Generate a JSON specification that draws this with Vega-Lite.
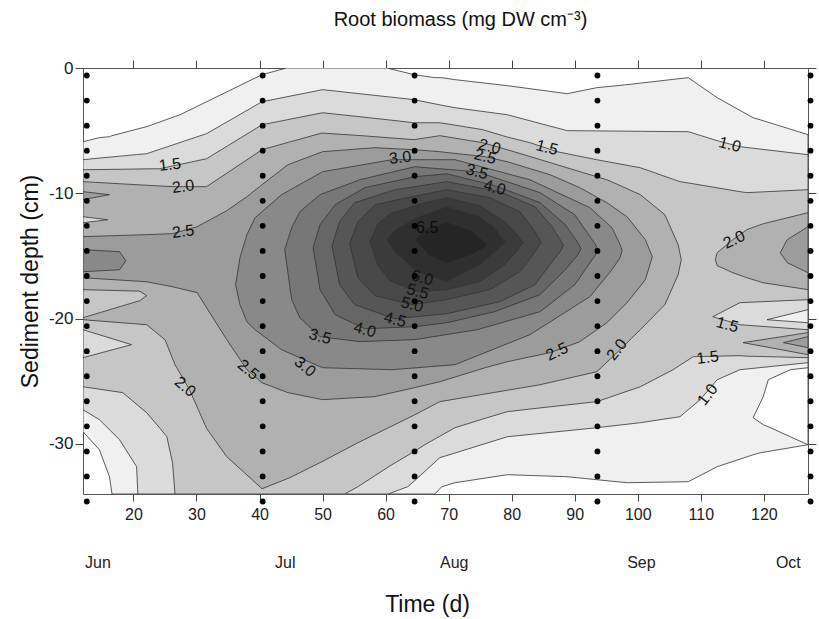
{
  "$schema": "https://vega.github.io/schema/vega-lite/v6.json",
  "width": 725,
  "height": 426,
  "autosize": {"type": "none"},
  "padding": {"left": 83, "top": 68, "right": 11, "bottom": 125},
  "background": "white",
  "title": {"text": "Root biomass (mg DW cm⁻³)", "font": "Liberation Sans", "fontSize": 20, "fontWeight": "normal", "color": "#111", "dx": 15, "offset": 9, "baseline": "bottom"},
  "config": {"view": {"stroke": "#555", "strokeWidth": 1}},
  "resolve": {"axis": {"x": "independent", "y": "independent"}},
  "layer": [
    {
      "data": {"values": [
        {"band":0.5,"g":"a05","x":12,"t":-5.88,"b":-29.03},
        {"band":0.5,"g":"a05","x":14.6,"t":-5.56,"b":-30.47},
        {"band":0.5,"g":"a05","x":16.2,"t":-5.48,"b":-32.62},
        {"band":0.5,"g":"a05","x":16.6,"t":-5.40,"b":-34},
        {"band":0.5,"g":"a05","x":22.1,"t":-4.68,"b":-34},
        {"band":0.5,"g":"a05","x":27.4,"t":-3.73,"b":-34},
        {"band":0.5,"g":"a05","x":32.6,"t":-2.45,"b":-34},
        {"band":0.5,"g":"a05","x":40.4,"t":-0.53,"b":-34},
        {"band":0.5,"g":"a05","x":44.3,"t":0,"b":-34},
        {"band":0.5,"g":"a05","x":60.2,"t":0,"b":-34},
        {"band":0.5,"g":"a05","x":64.5,"t":-0.53,"b":-34},
        {"band":0.5,"g":"a05","x":67.8,"t":-0.77,"b":-34},
        {"band":0.5,"g":"a05","x":68.9,"t":-0.77,"b":-33.42},
        {"band":0.5,"g":"a05","x":71.0,"t":-0.93,"b":-33.10},
        {"band":0.5,"g":"a05","x":79.3,"t":-1.41,"b":-32.46},
        {"band":0.5,"g":"a05","x":88.8,"t":-2.05,"b":-32.62},
        {"band":0.5,"g":"a05","x":93.5,"t":-1.57,"b":-32.86},
        {"band":0.5,"g":"a05","x":98.3,"t":-1.33,"b":-33.10},
        {"band":0.5,"g":"a05","x":108.0,"t":-0.77,"b":-33.02},
        {"band":0.5,"g":"a05","x":112.6,"t":-2.37,"b":-31.82},
        {"band":0.5,"g":"a05","x":118.3,"t":-3.97,"b":-30.87},
        {"band":0.5,"g":"a05","x":119.4,"t":-4.13,"b":-30.71},
        {"band":0.5,"g":"a05","x":127,"t":-5.32,"b":-30.07},

        {"band":1,"g":"a10","x":12,"t":-7.32,"b":-27.27},
        {"band":1,"g":"a10","x":14.6,"t":-7.19,"b":-28.07},
        {"band":1,"g":"a10","x":17.8,"t":-7.04,"b":-29.67},
        {"band":1,"g":"a10","x":20.5,"t":-6.91,"b":-31.82},
        {"band":1,"g":"a10","x":20.7,"t":-6.90,"b":-34},
        {"band":1,"g":"a10","x":22.1,"t":-6.84,"b":-34},
        {"band":1,"g":"a10","x":31.6,"t":-5.24,"b":-34},
        {"band":1,"g":"a10","x":40.4,"t":-2.69,"b":-34},
        {"band":1,"g":"a10","x":50.0,"t":-1.73,"b":-34},
        {"band":1,"g":"a10","x":60.4,"t":-2.30,"b":-34},
        {"band":1,"g":"a10","x":63.5,"t":-2.47,"b":-33.42},
        {"band":1,"g":"a10","x":64.5,"t":-2.53,"b":-32.99},
        {"band":1,"g":"a10","x":68.6,"t":-2.94,"b":-31.10},
        {"band":1,"g":"a10","x":71.0,"t":-3.17,"b":-30.73},
        {"band":1,"g":"a10","x":79.3,"t":-3.73,"b":-29.43},
        {"band":1,"g":"a10","x":88.8,"t":-5.00,"b":-28.95},
        {"band":1,"g":"a10","x":93.5,"t":-5.02,"b":-28.71},
        {"band":1,"g":"a10","x":100.4,"t":-5.05,"b":-28.31},
        {"band":1,"g":"a10","x":106.7,"t":-5.08,"b":-27.83},
        {"band":1,"g":"a10","x":108.0,"t":-5.08,"b":-27.27},
        {"band":1,"g":"a10","x":109.9,"t":-5.38,"b":-26.47},
        {"band":1,"g":"a10","x":112.6,"t":-5.80,"b":-24.88},
        {"band":1,"g":"a10","x":116.2,"t":-6.28,"b":-24.08},
        {"band":1,"g":"a10","x":127,"t":-6.92,"b":-23.52},

        {"band":1.5,"g":"a15","x":12,"t":-8.12,"b":-25.44},
        {"band":1.5,"g":"a15","x":18.3,"t":-8.08,"b":-25.91},
        {"band":1.5,"g":"a15","x":22.1,"t":-8.05,"b":-27.51},
        {"band":1.5,"g":"a15","x":24.2,"t":-8.04,"b":-28.75},
        {"band":1.5,"g":"a15","x":25.3,"t":-7.92,"b":-29.43},
        {"band":1.5,"g":"a15","x":26.2,"t":-7.81,"b":-31.50},
        {"band":1.5,"g":"a15","x":26.6,"t":-7.78,"b":-34},
        {"band":1.5,"g":"a15","x":31.6,"t":-7.24,"b":-34},
        {"band":1.5,"g":"a15","x":40.4,"t":-4.53,"b":-34},
        {"band":1.5,"g":"a15","x":50.0,"t":-3.57,"b":-34},
        {"band":1.5,"g":"a15","x":53.5,"t":-3.76,"b":-34},
        {"band":1.5,"g":"a15","x":55.6,"t":-3.87,"b":-33.42},
        {"band":1.5,"g":"a15","x":61.0,"t":-4.17,"b":-31.66},
        {"band":1.5,"g":"a15","x":64.5,"t":-4.37,"b":-30.62},
        {"band":1.5,"g":"a15","x":66.2,"t":-4.37,"b":-30.07},
        {"band":1.5,"g":"a15","x":68.6,"t":-4.37,"b":-29.39},
        {"band":1.5,"g":"a15","x":71.0,"t":-4.56,"b":-28.71},
        {"band":1.5,"g":"a15","x":75.4,"t":-4.92,"b":-28.02},
        {"band":1.5,"g":"a15","x":79.3,"t":-5.51,"b":-27.43},
        {"band":1.5,"g":"a15","x":82.9,"t":-5.96,"b":-27.22},
        {"band":1.5,"g":"a15","x":87.2,"t":-6.68,"b":-26.98},
        {"band":1.5,"g":"a15","x":93.5,"t":-7.32,"b":-26.63},
        {"band":1.5,"g":"a15","x":100.4,"t":-7.96,"b":-25.44},
        {"band":1.5,"g":"a15","x":105.6,"t":-8.88,"b":-24.08},
        {"band":1.5,"g":"a15","x":106.7,"t":-9.07,"b":-23.72},
        {"band":1.5,"g":"a15","x":108.8,"t":-9.24,"b":-23.04},
        {"band":1.5,"g":"a15","x":116.2,"t":-9.87,"b":-22.96},
        {"band":1.5,"g":"a15","x":117.3,"t":-9.95,"b":-23.0},
        {"band":1.5,"g":"a15","x":127,"t":-9.71,"b":-23.12},

        {"band":2,"g":"a20a","x":12,"t":-9.07,"b":-20.09},
        {"band":2,"g":"a20a","x":22.1,"t":-9.36,"b":-20.49},
        {"band":2,"g":"a20a","x":25.0,"t":-9.44,"b":-21.68},
        {"band":2,"g":"a20a","x":26.6,"t":-9.47,"b":-23.68},
        {"band":2,"g":"a20a","x":28.9,"t":-9.47,"b":-25.68},
        {"band":2,"g":"a20a","x":31.6,"t":-9.47,"b":-28.76},
        {"band":2,"g":"a20a","x":34.8,"t":-8.40,"b":-31.02},
        {"band":2,"g":"a20a","x":40.4,"t":-6.52,"b":-33.58},
        {"band":2,"g":"a20a","x":44.8,"t":-5.90,"b":-32.70},
        {"band":2,"g":"a20a","x":49.9,"t":-5.19,"b":-31.42},
        {"band":2,"g":"a20a","x":55.6,"t":-5.38,"b":-29.91},
        {"band":2,"g":"a20a","x":64.5,"t":-5.72,"b":-27.71},
        {"band":2,"g":"a20a","x":68.6,"t":-5.40,"b":-26.63},
        {"band":2,"g":"a20a","x":75.4,"t":-5.96,"b":-26.05},
        {"band":2,"g":"a20a","x":79.3,"t":-6.52,"b":-25.72},
        {"band":2,"g":"a20a","x":84.5,"t":-7.31,"b":-25.28},
        {"band":2,"g":"a20a","x":87.2,"t":-7.72,"b":-24.97},
        {"band":2,"g":"a20a","x":93.5,"t":-8.68,"b":-24.24},
        {"band":2,"g":"a20a","x":95.1,"t":-8.92,"b":-23.48},
        {"band":2,"g":"a20a","x":96.7,"t":-9.27,"b":-22.72},
        {"band":2,"g":"a20a","x":100.4,"t":-10.11,"b":-20.89},
        {"band":2,"g":"a20a","x":104.3,"t":-11.71,"b":-18.89},
        {"band":2,"g":"a20a","x":106.4,"t":-14.10,"b":-16.50},
        {"band":2,"g":"a20a","x":106.9,"t":-15.30,"b":-15.30},

        {"band":2,"g":"a20b","x":112.3,"t":-15.30,"b":-15.30},
        {"band":2,"g":"a20b","x":112.6,"t":-14.74,"b":-15.78},
        {"band":2,"g":"a20b","x":115.1,"t":-13.70,"b":-16.34},
        {"band":2,"g":"a20b","x":117.3,"t":-12.90,"b":-16.74},
        {"band":2,"g":"a20b","x":119.9,"t":-12.43,"b":-17.14},
        {"band":2,"g":"a20b","x":127,"t":-11.55,"b":-17.69},

        {"band":2,"g":"a20c","x":116.7,"t":-21.92,"b":-21.92},
        {"band":2,"g":"a20c","x":127,"t":-21.12,"b":-22.88},

        {"band":2.5,"g":"a25a","x":12,"t":-13.46,"b":-16.74},
        {"band":2.5,"g":"a25a","x":22.1,"t":-13.30,"b":-17.06},
        {"band":2.5,"g":"a25a","x":26.2,"t":-13.22,"b":-17.46},
        {"band":2.5,"g":"a25a","x":30.1,"t":-12.67,"b":-17.93},
        {"band":2.5,"g":"a25a","x":34.8,"t":-11.39,"b":-21.68},
        {"band":2.5,"g":"a25a","x":38.0,"t":-10.27,"b":-24.08},
        {"band":2.5,"g":"a25a","x":40.4,"t":-9.31,"b":-25.12},
        {"band":2.5,"g":"a25a","x":44.5,"t":-7.72,"b":-25.91},
        {"band":2.5,"g":"a25a","x":50.0,"t":-6.68,"b":-26.47},
        {"band":2.5,"g":"a25a","x":58.3,"t":-6.36,"b":-26.23},
        {"band":2.5,"g":"a25a","x":64.5,"t":-6.52,"b":-25.52},
        {"band":2.5,"g":"a25a","x":68.6,"t":-6.68,"b":-25.04},
        {"band":2.5,"g":"a25a","x":75.8,"t":-7.08,"b":-23.92},
        {"band":2.5,"g":"a25a","x":79.3,"t":-7.48,"b":-23.44},
        {"band":2.5,"g":"a25a","x":86.1,"t":-8.52,"b":-22.72},
        {"band":2.5,"g":"a25a","x":90.8,"t":-9.55,"b":-21.84},
        {"band":2.5,"g":"a25a","x":95.1,"t":-10.75,"b":-20.33},
        {"band":2.5,"g":"a25a","x":98.3,"t":-11.87,"b":-18.73},
        {"band":2.5,"g":"a25a","x":101.2,"t":-13.70,"b":-16.90},
        {"band":2.5,"g":"a25a","x":102.3,"t":-15.06,"b":-15.06},

        {"band":2.5,"g":"a25b","x":12,"t":-9.87,"b":-10.51},
        {"band":2.5,"g":"a25b","x":16.2,"t":-10.11,"b":-10.11},

        {"band":2.5,"g":"a25c","x":122.6,"t":-14.74,"b":-14.74},
        {"band":2.5,"g":"a25c","x":123.7,"t":-13.70,"b":-15.54},
        {"band":2.5,"g":"a25c","x":127,"t":-12.67,"b":-16.34},

        {"band":2.5,"g":"a25d","x":123.1,"t":-21.92,"b":-21.92},
        {"band":2.5,"g":"a25d","x":127,"t":-21.44,"b":-22.32},

        {"band":3,"g":"a30a","x":36.2,"t":-17.30,"b":-17.30},
        {"band":3,"g":"a30a","x":36.9,"t":-15.14,"b":-18.89},
        {"band":3,"g":"a30a","x":38.0,"t":-13.30,"b":-20.25},
        {"band":3,"g":"a30a","x":39.3,"t":-11.95,"b":-20.89},
        {"band":3,"g":"a30a","x":43.5,"t":-10.11,"b":-22.48},
        {"band":3,"g":"a30a","x":50.0,"t":-8.28,"b":-23.92},
        {"band":3,"g":"a30a","x":61.0,"t":-7.32,"b":-24.08},
        {"band":3,"g":"a30a","x":71.0,"t":-7.32,"b":-23.68},
        {"band":3,"g":"a30a","x":82.9,"t":-8.92,"b":-21.28},
        {"band":3,"g":"a30a","x":92.4,"t":-11.15,"b":-18.25},
        {"band":3,"g":"a30a","x":95.9,"t":-12.74,"b":-16.10},
        {"band":3,"g":"a30a","x":97.2,"t":-14.10,"b":-15.14},
        {"band":3,"g":"a30a","x":97.5,"t":-14.58,"b":-14.58},

        {"band":3,"g":"a30b","x":12,"t":-14.50,"b":-16.26},
        {"band":3,"g":"a30b","x":17.8,"t":-14.66,"b":-16.10},
        {"band":3,"g":"a30b","x":18.8,"t":-15.38,"b":-15.38},

        {"band":3.5,"g":"a35","x":44.0,"t":-14.50,"b":-14.50},
        {"band":3.5,"g":"a35","x":45.1,"t":-12.74,"b":-18.49},
        {"band":3.5,"g":"a35","x":46.4,"t":-11.47,"b":-19.93},
        {"band":3.5,"g":"a35","x":49.6,"t":-10.11,"b":-21.44},
        {"band":3.5,"g":"a35","x":55.9,"t":-8.92,"b":-21.84},
        {"band":3.5,"g":"a35","x":64.6,"t":-7.88,"b":-21.68},
        {"band":3.5,"g":"a35","x":74.5,"t":-8.28,"b":-20.89},
        {"band":3.5,"g":"a35","x":84.5,"t":-9.95,"b":-19.45},
        {"band":3.5,"g":"a35","x":90.0,"t":-11.71,"b":-17.30},
        {"band":3.5,"g":"a35","x":93.2,"t":-14.02,"b":-14.98},
        {"band":3.5,"g":"a35","x":93.7,"t":-14.50,"b":-14.50},

        {"band":4,"g":"a40","x":48.5,"t":-14.34,"b":-14.34},
        {"band":4,"g":"a40","x":49.6,"t":-12.51,"b":-17.69},
        {"band":4,"g":"a40","x":52.0,"t":-10.91,"b":-19.69},
        {"band":4,"g":"a40","x":56.7,"t":-9.55,"b":-20.81},
        {"band":4,"g":"a40","x":64.6,"t":-8.68,"b":-20.65},
        {"band":4,"g":"a40","x":69.7,"t":-8.44,"b":-20.33},
        {"band":4,"g":"a40","x":77.3,"t":-9.39,"b":-19.45},
        {"band":4,"g":"a40","x":84.5,"t":-10.75,"b":-18.09},
        {"band":4,"g":"a40","x":88.5,"t":-12.51,"b":-16.10},
        {"band":4,"g":"a40","x":90.5,"t":-13.94,"b":-14.90},
        {"band":4,"g":"a40","x":91.0,"t":-14.42,"b":-14.42},

        {"band":4.5,"g":"a45","x":51.5,"t":-14.18,"b":-14.18},
        {"band":4.5,"g":"a45","x":52.7,"t":-12.27,"b":-17.30},
        {"band":4.5,"g":"a45","x":55.1,"t":-10.75,"b":-18.89},
        {"band":4.5,"g":"a45","x":61.5,"t":-9.71,"b":-20.01},
        {"band":4.5,"g":"a45","x":69.7,"t":-9.07,"b":-19.61},
        {"band":4.5,"g":"a45","x":78.1,"t":-9.87,"b":-18.65},
        {"band":4.5,"g":"a45","x":83.7,"t":-11.07,"b":-17.30},
        {"band":4.5,"g":"a45","x":86.4,"t":-12.67,"b":-15.46},
        {"band":4.5,"g":"a45","x":87.7,"t":-13.70,"b":-14.66},
        {"band":4.5,"g":"a45","x":88.2,"t":-14.18,"b":-14.18},

        {"band":5,"g":"a50","x":54.3,"t":-14.02,"b":-14.02},
        {"band":5,"g":"a50","x":55.6,"t":-12.27,"b":-16.74},
        {"band":5,"g":"a50","x":58.3,"t":-10.91,"b":-18.17},
        {"band":5,"g":"a50","x":64.2,"t":-10.27,"b":-18.89},
        {"band":5,"g":"a50","x":69.7,"t":-9.71,"b":-18.49},
        {"band":5,"g":"a50","x":76.5,"t":-10.35,"b":-17.69},
        {"band":5,"g":"a50","x":81.3,"t":-11.47,"b":-16.26},
        {"band":5,"g":"a50","x":83.7,"t":-13.06,"b":-14.66},
        {"band":5,"g":"a50","x":84.7,"t":-13.94,"b":-13.94},

        {"band":5.5,"g":"a55","x":57.5,"t":-13.86,"b":-13.86},
        {"band":5.5,"g":"a55","x":58.8,"t":-12.43,"b":-15.78},
        {"band":5.5,"g":"a55","x":60.7,"t":-11.63,"b":-16.98},
        {"band":5.5,"g":"a55","x":65.1,"t":-10.91,"b":-17.85},
        {"band":5.5,"g":"a55","x":69.7,"t":-10.35,"b":-17.69},
        {"band":5.5,"g":"a55","x":74.9,"t":-10.99,"b":-17.06},
        {"band":5.5,"g":"a55","x":78.9,"t":-12.27,"b":-15.70},
        {"band":5.5,"g":"a55","x":81.0,"t":-13.38,"b":-14.50},
        {"band":5.5,"g":"a55","x":81.8,"t":-13.94,"b":-13.94},

        {"band":6,"g":"a60","x":60.2,"t":-13.70,"b":-13.70},
        {"band":6,"g":"a60","x":61.5,"t":-12.90,"b":-14.66},
        {"band":6,"g":"a60","x":65.0,"t":-11.95,"b":-16.26},
        {"band":6,"g":"a60","x":69.7,"t":-11.07,"b":-17.06},
        {"band":6,"g":"a60","x":74.9,"t":-11.87,"b":-15.70},
        {"band":6,"g":"a60","x":77.3,"t":-12.74,"b":-14.66},
        {"band":6,"g":"a60","x":78.6,"t":-13.70,"b":-14.10},
        {"band":6,"g":"a60","x":79.1,"t":-13.86,"b":-13.86},

        {"band":6.5,"g":"a65","x":64.6,"t":-13.70,"b":-13.70},
        {"band":6.5,"g":"a65","x":66.7,"t":-12.74,"b":-14.90},
        {"band":6.5,"g":"a65","x":69.7,"t":-12.27,"b":-15.62},
        {"band":6.5,"g":"a65","x":73.4,"t":-12.90,"b":-14.98},
        {"band":6.5,"g":"a65","x":75.8,"t":-13.86,"b":-14.34},
        {"band":6.5,"g":"a65","x":76.2,"t":-14.10,"b":-14.10}
      ]},
      "mark": {"type": "area", "interpolate": "linear", "stroke": "#333", "strokeWidth": 0.8, "clip": true},
      "encoding": {
        "x": {"field": "x", "type": "quantitative", "scale": {"domain": [12, 127], "nice": false, "zero": false},
          "axis": {"orient": "bottom", "values": [20,30,40,50,60,70,80,90,100,110,120], "tickSize": 7, "tickColor": "#444", "domain": false, "grid": false, "labelFont": "Liberation Sans", "labelFontSize": 16, "labelColor": "#222", "labelPadding": 5, "labelFlush": false,
            "title": "Time (d)", "titleFont": "Liberation Sans", "titleFontSize": 23, "titleFontWeight": "normal", "titleColor": "#111", "titleX": 344, "titleY": 110, "titleAlign": "center", "titleBaseline": "middle"}},
        "y": {"field": "t", "type": "quantitative", "stack": null, "scale": {"domain": [-34, 0], "nice": false, "zero": false},
          "axis": {"orient": "left", "values": [0,-10,-20,-30], "labelExpr": "replace(datum.label, '−', '-')", "tickSize": 8, "tickColor": "#444", "domain": false, "grid": false, "labelFont": "Liberation Sans", "labelFontSize": 17, "labelColor": "#222", "labelPadding": 2, "labelFlush": false,
            "title": "Sediment depth (cm)", "titleFont": "Liberation Sans", "titleFontSize": 23, "titleFontWeight": "normal", "titleColor": "#111", "titleX": -53, "titleBaseline": "middle"}},
        "y2": {"field": "b"},
        "fill": {"field": "band", "type": "ordinal", "legend": null,
          "scale": {"domain": [0,0.5,1,1.5,2,2.5,3,3.5,4,4.5,5,5.5,6,6.5], "range": ["#ffffff","#f0f0f0","#dbdbdb","#c6c6c6","#b1b1b1","#9c9c9c","#898989","#777777","#666666","#565656","#484848","#3b3b3b","#2f2f2f","#252525"]}},
        "detail": {"field": "g"}
      }
    },
    {
      "data": {"values": [
        {"band":1,"g":"h1","x":12,"t":-11.87,"b":-12.35},
        {"band":1,"g":"h1","x":15.9,"t":-12.11,"b":-12.11},
        {"band":1.5,"g":"h2","x":12,"t":-17.69,"b":-19.93},
        {"band":1.5,"g":"h2","x":21.0,"t":-17.81,"b":-18.57},
        {"band":1.5,"g":"h2","x":22.1,"t":-18.17,"b":-18.17},
        {"band":1,"g":"h3","x":12,"t":-20.89,"b":-23.12},
        {"band":1,"g":"h3","x":19.7,"t":-22.08,"b":-22.08},
        {"band":1,"g":"h4","x":111.9,"t":-19.85,"b":-19.85},
        {"band":1,"g":"h4","x":116.2,"t":-18.73,"b":-20.49},
        {"band":1,"g":"h4","x":127,"t":-18.49,"b":-20.89}
      ]},
      "mark": {"type": "area", "interpolate": "linear", "stroke": "#333", "strokeWidth": 0.8, "clip": true},
      "encoding": {
        "x": {"field": "x", "type": "quantitative", "scale": {"domain": [12, 127], "nice": false, "zero": false},
          "axis": {"orient": "top", "values": [20,30,40,50,60,70,80,90,100,110,120], "labels": false, "tickSize": 8, "tickColor": "#444", "domain": false, "grid": false, "title": null}},
        "y": {"field": "t", "type": "quantitative", "stack": null, "scale": {"domain": [-34, 0], "nice": false, "zero": false},
          "axis": {"orient": "right", "values": [0,-10,-20,-30], "labels": false, "tickSize": 8, "tickColor": "#444", "domain": false, "grid": false, "title": null}},
        "y2": {"field": "b"},
        "fill": {"field": "band", "type": "ordinal", "legend": null,
          "scale": {"domain": [0,0.5,1,1.5,2,2.5,3,3.5,4,4.5,5,5.5,6,6.5], "range": ["#ffffff","#f0f0f0","#dbdbdb","#c6c6c6","#b1b1b1","#9c9c9c","#898989","#777777","#666666","#565656","#484848","#3b3b3b","#2f2f2f","#252525"]}},
        "detail": {"field": "g"}
      }
    },
    {
      "data": {"values": [
        {"band":0.5,"g":"h5","x":120.5,"t":-20.09,"b":-20.09},
        {"band":0.5,"g":"h5","x":127,"t":-19.29,"b":-20.33},
        {"band":0,"g":"h6","x":118.3,"t":-27.91,"b":-27.91},
        {"band":0,"g":"h6","x":119.9,"t":-26.23,"b":-28.47},
        {"band":0,"g":"h6","x":120.7,"t":-24.88,"b":-28.63},
        {"band":0,"g":"h6","x":124.2,"t":-24.08,"b":-29.43},
        {"band":0,"g":"h6","x":127,"t":-23.92,"b":-30.07}
      ]},
      "mark": {"type": "area", "interpolate": "linear", "stroke": "#333", "strokeWidth": 0.8, "clip": true},
      "encoding": {
        "x": {"field": "x", "type": "quantitative", "scale": {"domain": [12, 127], "nice": false, "zero": false},
          "axis": {"orient": "bottom", "values": [14.3, 44.0, 70.8, 100.5, 123.8], "labelExpr": "datum.value < 20 ? 'Jun' : datum.value < 50 ? 'Jul' : datum.value < 80 ? 'Aug' : datum.value < 110 ? 'Sep' : 'Oct'", "ticks": false, "tickSize": 0, "domain": false, "grid": false, "labelFont": "Liberation Sans", "labelFontSize": 16, "labelColor": "#222", "labelPadding": 60, "labelFlush": false, "labelOverlap": false, "title": null}},
        "y": {"field": "t", "type": "quantitative", "stack": null, "scale": {"domain": [-34, 0], "nice": false, "zero": false}, "axis": null},
        "y2": {"field": "b"},
        "fill": {"field": "band", "type": "ordinal", "legend": null,
          "scale": {"domain": [0,0.5,1,1.5,2,2.5,3,3.5,4,4.5,5,5.5,6,6.5], "range": ["#ffffff","#f0f0f0","#dbdbdb","#c6c6c6","#b1b1b1","#9c9c9c","#898989","#777777","#666666","#565656","#484848","#3b3b3b","#2f2f2f","#252525"]}},
        "detail": {"field": "g"}
      }
    },
    {
      "data": {"values": [
        {"x":25.8,"y":-7.72,"t":"1.5"},
        {"x":27.9,"y":-9.47,"t":"2.0"},
        {"x":27.9,"y":-13.06,"t":"2.5"},
        {"x":62.3,"y":-7.16,"t":"3.0"},
        {"x":111.1,"y":-23.12,"t":"1.5"}
      ]},
      "mark": {"type": "text", "angle": -7, "font": "Liberation Sans", "fontSize": 16, "fill": "#111", "align": "center", "baseline": "middle"},
      "encoding": {
        "x": {"field": "x", "type": "quantitative", "scale": {"domain": [12, 127], "nice": false, "zero": false}, "axis": null},
        "y": {"field": "y", "type": "quantitative", "scale": {"domain": [-34, 0], "nice": false, "zero": false}, "axis": null},
        "text": {"field": "t"}
      }
    },
    {
      "data": {"values": [
        {"x":76.5,"y":-6.28,"t":"2.0"},
        {"x":75.8,"y":-7.08,"t":"2.5"},
        {"x":74.5,"y":-8.28,"t":"3.5"},
        {"x":77.3,"y":-9.55,"t":"4.0"},
        {"x":85.6,"y":-6.36,"t":"1.5"},
        {"x":114.6,"y":-6.12,"t":"1.0"},
        {"x":114.2,"y":-20.49,"t":"1.5"},
        {"x":65.8,"y":-16.74,"t":"6.0"},
        {"x":65.1,"y":-17.85,"t":"5.5"},
        {"x":64.2,"y":-18.89,"t":"5.0"},
        {"x":61.5,"y":-20.09,"t":"4.5"},
        {"x":56.7,"y":-20.89,"t":"4.0"},
        {"x":49.6,"y":-21.44,"t":"3.5"}
      ]},
      "mark": {"type": "text", "angle": 15, "font": "Liberation Sans", "fontSize": 16, "fill": "#111", "align": "center", "baseline": "middle"},
      "encoding": {
        "x": {"field": "x", "type": "quantitative", "scale": {"domain": [12, 127], "nice": false, "zero": false}, "axis": null},
        "y": {"field": "y", "type": "quantitative", "scale": {"domain": [-34, 0], "nice": false, "zero": false}, "axis": null},
        "text": {"field": "t"}
      }
    },
    {
      "data": {"values": [
        {"x":47.2,"y":-23.84,"t":"3.0"},
        {"x":38.2,"y":-24.08,"t":"2.5"},
        {"x":28.2,"y":-25.44,"t":"2.0"}
      ]},
      "mark": {"type": "text", "angle": 40, "font": "Liberation Sans", "fontSize": 16, "fill": "#111", "align": "center", "baseline": "middle"},
      "encoding": {
        "x": {"field": "x", "type": "quantitative", "scale": {"domain": [12, 127], "nice": false, "zero": false}, "axis": null},
        "y": {"field": "y", "type": "quantitative", "scale": {"domain": [-34, 0], "nice": false, "zero": false}, "axis": null},
        "text": {"field": "t"}
      }
    },
    {
      "data": {"values": [
        {"x":115.3,"y":-13.70,"t":"2.0"},
        {"x":87.2,"y":-22.64,"t":"2.5"}
      ]},
      "mark": {"type": "text", "angle": -25, "font": "Liberation Sans", "fontSize": 16, "fill": "#111", "align": "center", "baseline": "middle"},
      "encoding": {
        "x": {"field": "x", "type": "quantitative", "scale": {"domain": [12, 127], "nice": false, "zero": false}, "axis": null},
        "y": {"field": "y", "type": "quantitative", "scale": {"domain": [-34, 0], "nice": false, "zero": false}, "axis": null},
        "text": {"field": "t"}
      }
    },
    {
      "data": {"values": [
        {"x":96.7,"y":-22.48,"t":"2.0"},
        {"x":111.1,"y":-26.07,"t":"1.0"}
      ]},
      "mark": {"type": "text", "angle": -52, "font": "Liberation Sans", "fontSize": 16, "fill": "#111", "align": "center", "baseline": "middle"},
      "encoding": {
        "x": {"field": "x", "type": "quantitative", "scale": {"domain": [12, 127], "nice": false, "zero": false}, "axis": null},
        "y": {"field": "y", "type": "quantitative", "scale": {"domain": [-34, 0], "nice": false, "zero": false}, "axis": null},
        "text": {"field": "t"}
      }
    },
    {
      "data": {"values": [
        {"x":66.6,"y":-12.75,"t":"6.5"}
      ]},
      "mark": {"type": "text", "font": "Liberation Sans", "fontSize": 16, "fill": "#0c0c0c", "align": "center", "baseline": "middle"},
      "encoding": {
        "x": {"field": "x", "type": "quantitative", "scale": {"domain": [12, 127], "nice": false, "zero": false}, "axis": null},
        "y": {"field": "y", "type": "quantitative", "scale": {"domain": [-34, 0], "nice": false, "zero": false}, "axis": null},
        "text": {"field": "t"}
      }
    },
    {
      "data": {"values": [
        {"x":12.6,"y":-0.6},{"x":12.6,"y":-2.6},{"x":12.6,"y":-4.6},{"x":12.6,"y":-6.6},{"x":12.6,"y":-8.6},{"x":12.6,"y":-10.6},{"x":12.6,"y":-12.6},{"x":12.6,"y":-14.6},{"x":12.6,"y":-16.6},{"x":12.6,"y":-18.6},{"x":12.6,"y":-20.6},{"x":12.6,"y":-22.6},{"x":12.6,"y":-24.6},{"x":12.6,"y":-26.6},{"x":12.6,"y":-28.6},{"x":12.6,"y":-30.6},{"x":12.6,"y":-32.6},{"x":12.6,"y":-34.6},
        {"x":40.5,"y":-0.6},{"x":40.5,"y":-2.6},{"x":40.5,"y":-4.6},{"x":40.5,"y":-6.6},{"x":40.5,"y":-8.6},{"x":40.5,"y":-10.6},{"x":40.5,"y":-12.6},{"x":40.5,"y":-14.6},{"x":40.5,"y":-16.6},{"x":40.5,"y":-18.6},{"x":40.5,"y":-20.6},{"x":40.5,"y":-22.6},{"x":40.5,"y":-24.6},{"x":40.5,"y":-26.6},{"x":40.5,"y":-28.6},{"x":40.5,"y":-30.6},{"x":40.5,"y":-32.6},{"x":40.5,"y":-34.6},
        {"x":64.6,"y":-0.6},{"x":64.6,"y":-2.6},{"x":64.6,"y":-4.6},{"x":64.6,"y":-6.6},{"x":64.6,"y":-8.6},{"x":64.6,"y":-10.6},{"x":64.6,"y":-12.6},{"x":64.6,"y":-14.6},{"x":64.6,"y":-16.6},{"x":64.6,"y":-18.6},{"x":64.6,"y":-20.6},{"x":64.6,"y":-22.6},{"x":64.6,"y":-24.6},{"x":64.6,"y":-26.6},{"x":64.6,"y":-28.6},{"x":64.6,"y":-30.6},{"x":64.6,"y":-32.6},{"x":64.6,"y":-34.6},
        {"x":93.6,"y":-0.6},{"x":93.6,"y":-2.6},{"x":93.6,"y":-4.6},{"x":93.6,"y":-6.6},{"x":93.6,"y":-8.6},{"x":93.6,"y":-10.6},{"x":93.6,"y":-12.6},{"x":93.6,"y":-14.6},{"x":93.6,"y":-16.6},{"x":93.6,"y":-18.6},{"x":93.6,"y":-20.6},{"x":93.6,"y":-22.6},{"x":93.6,"y":-24.6},{"x":93.6,"y":-26.6},{"x":93.6,"y":-28.6},{"x":93.6,"y":-30.6},{"x":93.6,"y":-32.6},{"x":93.6,"y":-34.6},
        {"x":127.4,"y":-0.6},{"x":127.4,"y":-2.6},{"x":127.4,"y":-4.6},{"x":127.4,"y":-6.6},{"x":127.4,"y":-8.6},{"x":127.4,"y":-10.6},{"x":127.4,"y":-12.6},{"x":127.4,"y":-14.6},{"x":127.4,"y":-16.6},{"x":127.4,"y":-18.6},{"x":127.4,"y":-20.6},{"x":127.4,"y":-22.6},{"x":127.4,"y":-24.6},{"x":127.4,"y":-26.6},{"x":127.4,"y":-28.6},{"x":127.4,"y":-30.6},{"x":127.4,"y":-32.6},{"x":127.4,"y":-34.6}
      ]},
      "mark": {"type": "circle", "size": 34, "color": "#000", "opacity": 1, "clip": false},
      "encoding": {
        "x": {"field": "x", "type": "quantitative", "scale": {"domain": [12, 127], "nice": false, "zero": false}, "axis": null},
        "y": {"field": "y", "type": "quantitative", "scale": {"domain": [-34, 0], "nice": false, "zero": false}, "axis": null}
      }
    }
  ]
}
